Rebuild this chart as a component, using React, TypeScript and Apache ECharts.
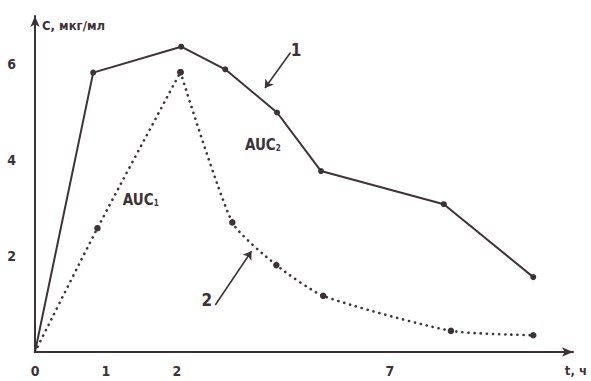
import React, { useEffect, useRef } from "react";
import * as echarts from "echarts";

// Concentration–time profiles (C, мкг/мл versus t, ч)
const solidTime = [0, 0.82, 2.06, 2.68, 3.41, 4.03, 5.76, 7.02];
const solidConc = [0, 5.82, 6.36, 5.89, 4.99, 3.77, 3.08, 1.56];

const dottedTime = [0, 0.88, 2.05, 2.78, 3.4, 4.06, 5.86, 7.02];
const dottedConc = [0, 2.58, 5.83, 2.7, 1.81, 1.17, 0.44, 0.35];

// Axis ticks: schematic time axis
const xTickPositions = [0, 1, 2, 5];
const xTickLabels = ["0", "1", "2", "7"];
const yTickValues = [2, 4, 6];

// Annotation anchors (data units)
const aucLabels = [
  { name: "AUC", sub: "1", at: [1.49, 3.2] },
  { name: "AUC", sub: "2", at: [3.21, 4.35] },
];
const curveTags = [
  { text: "1", at: [3.68, 6.3], from: [3.6, 6.24], to: [3.24, 5.5] },
  { text: "2", at: [2.42, 1.08], from: [2.54, 0.98], to: [3.05, 2.1] },
];

const INK = "#3d3337";
const FONT = "'Liberation Sans Narrow', 'DejaVu Sans Condensed', 'Roboto', sans-serif";

export default function App() {
  const ref = useRef<HTMLDivElement>(null);

  useEffect(() => {
    if (!ref.current) return;
    const chart = echarts.init(ref.current, undefined, { renderer: "svg" });

    const pairs = (xs: number[], ys: number[]) =>
      xs.map((x, i) => (i === 0 ? { value: [x, ys[i]], symbol: "none" } : { value: [x, ys[i]] }));

    const solidData = pairs(solidTime, solidConc);
    const dottedAll = pairs(dottedTime, dottedConc);
    const peak = dottedConc.indexOf(Math.max(...dottedConc));
    const dottedRise = dottedAll.slice(0, peak + 1);
    const dottedFall = dottedAll.slice(peak).map((d) => ({ value: d.value }));

    const dotted = {
      type: "line",
      symbol: "circle",
      symbolSize: 6.5,
      itemStyle: { color: INK },
      lineStyle: { color: INK, width: 2.6, type: [0.1, 6], cap: "round" },
    };

    const labelFont = { color: INK, fontFamily: FONT, fontSize: 14, fontWeight: "bold" as const };

    chart.setOption({
      animation: false,
      backgroundColor: "#ffffff",
      grid: { left: 35, right: 18, top: 16, bottom: 29 },
      xAxis: {
        type: "value",
        min: 0,
        max: 7.58,
        splitLine: { show: false },
        axisTick: { show: false },
        axisLine: {
          onZero: false,
          lineStyle: { color: INK, width: 2 },
          symbol: ["none", "arrow"],
          symbolSize: [7, 11],
        },
        axisLabel: {
          customValues: xTickPositions,
          formatter: (v: number) => xTickLabels[xTickPositions.indexOf(v)] ?? "",
          ...labelFont,
          margin: 12,
        },
      },
      yAxis: {
        type: "value",
        min: 0,
        max: 7,
        splitLine: { show: false },
        axisTick: { show: false },
        axisLine: {
          onZero: false,
          lineStyle: { color: INK, width: 2 },
          symbol: ["none", "arrow"],
          symbolSize: [7, 11],
        },
        axisLabel: {
          customValues: yTickValues,
          ...labelFont,
          margin: 19,
        },
      },
      series: [
        {
          type: "line",
          data: solidData,
          symbol: "circle",
          symbolSize: 6,
          itemStyle: { color: INK },
          lineStyle: { color: INK, width: 2 },
          markLine: {
            silent: true,
            symbol: ["none", "arrow"],
            symbolSize: 8,
            lineStyle: { color: INK, width: 1.6, type: "solid" },
            label: { show: false },
            data: curveTags.map((t) => [
              { coord: t.from, symbol: "none" },
              { coord: t.to, symbol: "arrow" },
            ]),
          },
          markPoint: {
            silent: true,
            symbol: "circle",
            symbolSize: 1,
            itemStyle: { color: "rgba(0,0,0,0)" },
            label: {
              show: true,
              position: "inside",
              color: INK,
              fontFamily: FONT,
              fontWeight: "bold",
              fontSize: 17,
            },
            data: [
              ...curveTags.map((t) => ({ coord: t.at, value: t.text, label: { formatter: t.text } })),
              ...aucLabels.map((a) => ({
                coord: a.at,
                value: a.name,
                label: {
                  formatter: `{m|${a.name}}{s|${a.sub}}`,
                  rich: {
                    m: { fontFamily: FONT, fontSize: 15, fontWeight: "bold", color: INK, lineHeight: 18, verticalAlign: "bottom" },
                    s: { fontFamily: FONT, fontSize: 8, fontWeight: "bold", color: INK, lineHeight: 18, verticalAlign: "bottom", padding: [6, 0, 0, 0] },
                  },
                },
              })),
            ],
          },
        },
        { ...dotted, data: dottedRise, smooth: 0.25 },
        { ...dotted, data: dottedFall, smooth: 0.2 },
      ],
      graphic: [
        {
          type: "text",
          left: 42,
          top: 19,
          style: { text: "C, мкг/мл", fill: INK, font: `bold 13px ${FONT}` },
        },
        {
          type: "text",
          right: 4,
          top: 364,
          style: { text: "t, ч", fill: INK, font: `bold 13px ${FONT}` },
        },
      ],
    });

    return () => chart.dispose();
  }, []);

  return (
    <div
      ref={ref}
      style={{ position: "fixed", left: 0, top: 0, width: 591, height: 381, background: "#fff" }}
    />
  );
}
